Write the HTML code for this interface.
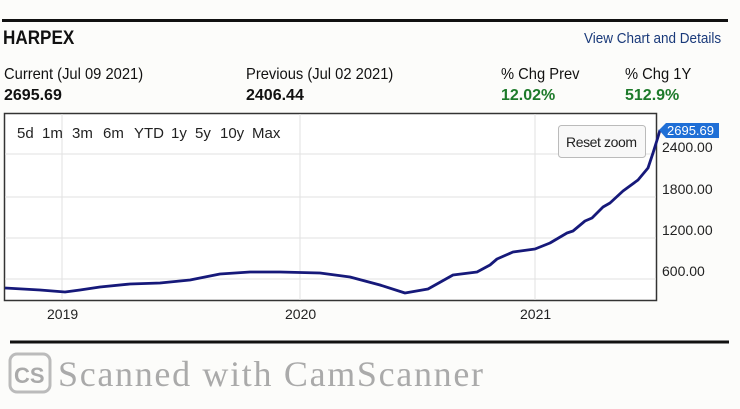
<!DOCTYPE html>
<html><head><style>
body{margin:0;width:740px;height:409px;background:#fcfcfa;font-family:"Liberation Sans",sans-serif;position:relative;overflow:hidden;color:#111}
.a{position:absolute;white-space:nowrap}
</style></head><body>
<div class="a" style="left:2px;top:19px;width:726px;height:3px;background:#111"></div>
<div class="a" style="left:3px;top:28px;font-size:19px;font-weight:bold;transform:scaleX(.9);transform-origin:left">HARPEX</div>
<div class="a" style="left:584px;top:30px;font-size:15px;color:#1a3a7a;transform:scaleX(.9);transform-origin:left">View Chart and Details</div>
<div class="a" style="left:4px;top:66px;font-size:16px;transform:scaleX(.92);transform-origin:left">Current (Jul 09 2021)</div>
<div class="a" style="left:4px;top:87px;font-size:16px;font-weight:bold">2695.69</div>
<div class="a" style="left:246px;top:66px;font-size:16px;transform:scaleX(.92);transform-origin:left">Previous (Jul 02 2021)</div>
<div class="a" style="left:246px;top:87px;font-size:16px;font-weight:bold">2406.44</div>
<div class="a" style="left:501px;top:66px;font-size:16px;transform:scaleX(.92);transform-origin:left">% Chg Prev</div>
<div class="a" style="left:501px;top:87px;font-size:16px;font-weight:bold;color:#1d7a2a">12.02%</div>
<div class="a" style="left:625px;top:66px;font-size:16px;transform:scaleX(.92);transform-origin:left">% Chg 1Y</div>
<div class="a" style="left:625px;top:87px;font-size:16px;font-weight:bold;color:#1d7a2a">512.9%</div>
<svg class="a" style="left:0;top:0" width="740" height="409">
<rect x="4.5" y="113.5" width="652" height="187" fill="#fff" stroke="#333" stroke-width="1.5"/>
<g stroke="#e2e2e2" stroke-width="1">
<line x1="5" x2="656" y1="154" y2="154"/><line x1="5" x2="656" y1="197" y2="197"/><line x1="5" x2="656" y1="238" y2="238"/><line x1="5" x2="656" y1="279" y2="279"/>
<line x1="62" x2="62" y1="114" y2="300"/><line x1="300" x2="300" y1="114" y2="300"/><line x1="535" x2="535" y1="114" y2="300"/>
</g>
<polyline fill="none" stroke="#16197a" stroke-width="2.8" stroke-linejoin="round" points="5,288 40,290 65,292 80,290 100,287 130,284 160,283 190,280 220,274 250,272 280,272 320,273 350,277 380,285 405,293 428,289 453,275 477,272 490,265 497,259 513,252 535,249 550,243 567,233 573,231 585,221 592,218 603,207 610,203 623,191 638,180 648,168 653,153 658,137 660,130"/>
<polygon points="659,130 666,123 719,123 719,138 666,138" fill="#1f6fd6"/>
<text x="667" y="135" font-size="13" fill="#fff" font-family="Liberation Sans">2695.69</text>
<rect x="558.5" y="125.5" width="87" height="32" rx="3" fill="#f8f8f8" stroke="#bbb"/>
<text x="566" y="147" font-size="14" fill="#222" font-family="Liberation Sans" textLength="71">Reset zoom</text>
<g font-size="14" fill="#222" font-family="Liberation Sans">
<text x="662" y="152">2400.00</text><text x="662" y="194">1800.00</text><text x="662" y="235">1200.00</text><text x="662" y="276">600.00</text>
<text x="47" y="319">2019</text><text x="285" y="319">2020</text><text x="520" y="319">2021</text>
<text x="17" y="138" font-size="15">5d</text><text x="42" y="138" font-size="15">1m</text><text x="72" y="138" font-size="15">3m</text>
<text x="103" y="138" font-size="15">6m</text><text x="134" y="138" font-size="15">YTD</text><text x="171" y="138" font-size="15">1y</text>
<text x="195" y="138" font-size="15">5y</text><text x="220" y="138" font-size="15">10y</text><text x="252" y="138" font-size="15">Max</text>
</g>
<line x1="10" x2="729" y1="342" y2="342" stroke="#111" stroke-width="3"/>
<rect x="10" y="354" width="40" height="38" rx="7" fill="none" stroke="#bbb" stroke-width="3"/>
<text x="14" y="383" font-size="22" fill="#aaa" font-family="Liberation Sans" font-weight="bold">CS</text>
<text x="58" y="386" font-size="36" fill="#aaa" font-family="Liberation Serif" textLength="425">Scanned with CamScanner</text>
</svg>
</body></html>
